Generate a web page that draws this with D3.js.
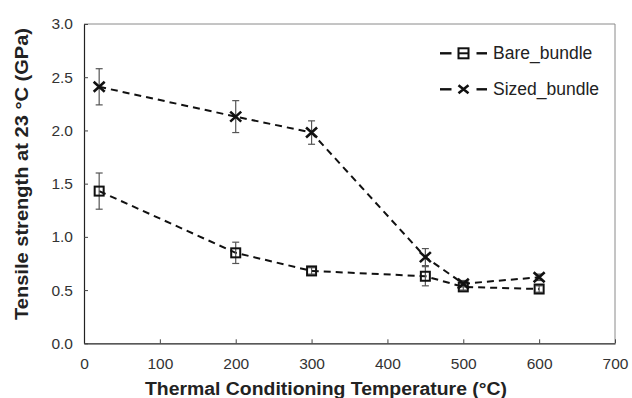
<!DOCTYPE html>
<html>
<head>
<meta charset="utf-8">
<script src="https://cdn.jsdelivr.net/npm/d3@7"></script>
<style>
  body { margin: 0; background: #fff; }
  svg { display: block; font-family: "Liberation Sans", Arial, sans-serif; }
</style>
</head>
<body>
<div id="chart"></div>
<script>
// temperatures (°C)
const temps = [20, 200, 300, 450, 500, 600];
// tensile strength (GPa) and error (±)
const bareValues = [1.43, 0.85, 0.68, 0.63, 0.53, 0.51];
const bareErrors = [0.17, 0.10, 0.03, 0.09, 0.03, 0.03];
const sizedValues = [2.41, 2.13, 1.98, 0.81, 0.56, 0.62];
const sizedErrors = [0.17, 0.15, 0.11, 0.08, 0.03, 0.03];
const xTicks = [0, 100, 200, 300, 400, 500, 600, 700];
const yTicks = [0.0, 0.5, 1.0, 1.5, 2.0, 2.5, 3.0];
const seriesNames = ["Bare_bundle", "Sized_bundle"];

const W = 632, H = 398;
const margin = { top: 24, right: 17, bottom: 54.7, left: 84 };
const width = W - margin.left - margin.right;
const height = H - margin.top - margin.bottom;

const svg = d3.select("#chart").append("svg")
    .attr("width", W)
    .attr("height", H);

const g = svg.append("g")
    .attr("transform", `translate(${margin.left},${margin.top})`);

const x = d3.scaleLinear().domain([0, 700]).range([0, width]);
const y = d3.scaleLinear().domain([0, 3]).range([height, 0]);

// frame (top and right)
g.append("path")
    .attr("d", `M0,0H${width}V${height}`)
    .attr("fill", "none")
    .attr("stroke", "#8a8a8a")
    .attr("stroke-width", 1);

// axes
g.append("g")
    .attr("transform", `translate(0,${height})`)
    .call(d3.axisBottom(x).tickValues(xTicks).tickFormat(d3.format("d")).tickSizeInner(-4).tickSizeOuter(0).tickPadding(15))
    .call(a => a.select(".domain").attr("stroke", "#222").attr("stroke-width", 1.2))
    .call(a => a.selectAll(".tick line").attr("stroke", "#444"))
    .call(a => a.selectAll(".tick text").attr("font-size", "15.5px").attr("fill", "#333")
        .attr("font-family", "Liberation Sans, Arial, sans-serif"));

g.append("g")
    .call(d3.axisLeft(y).tickValues(yTicks).tickFormat(d3.format(".1f")).tickSizeInner(-4).tickSizeOuter(0).tickPadding(11))
    .call(a => a.select(".domain").attr("stroke", "#222").attr("stroke-width", 1.2))
    .call(a => a.selectAll(".tick line").attr("stroke", "#444"))
    .call(a => a.selectAll(".tick text").attr("font-size", "15.5px").attr("fill", "#333")
        .attr("font-family", "Liberation Sans, Arial, sans-serif"));

// axis titles
svg.append("text")
    .attr("x", 326)
    .attr("y", 395)
    .attr("text-anchor", "middle")
    .attr("font-size", "18px")
    .attr("font-weight", "bold")
    .attr("fill", "#222")
    .attr("textLength", 362)
    .attr("lengthAdjust", "spacingAndGlyphs")
    .text("Thermal Conditioning Temperature (°C)");

svg.append("text")
    .attr("transform", `translate(28,174) rotate(-90)`)
    .attr("text-anchor", "middle")
    .attr("font-size", "17.5px")
    .attr("font-weight", "bold")
    .attr("fill", "#222")
    .attr("textLength", 292)
    .attr("lengthAdjust", "spacingAndGlyphs")
    .text("Tensile strength at 23 °C (GPa)");

const bare = temps.map((t, i) => ({ t, v: bareValues[i], e: bareErrors[i] }));
const sized = temps.map((t, i) => ({ t, v: sizedValues[i], e: sizedErrors[i] }));

const line = d3.line().x(d => x(d.t)).y(d => y(d.v));

function drawErrors(data) {
    const eb = g.append("g").attr("stroke", "#555").attr("stroke-width", 1.2);
    data.forEach(d => {
        eb.append("line").attr("x1", x(d.t)).attr("x2", x(d.t))
            .attr("y1", y(d.v + d.e)).attr("y2", y(d.v - d.e));
        [d.v + d.e, d.v - d.e].forEach(v => {
            eb.append("line").attr("x1", x(d.t) - 3.5).attr("x2", x(d.t) + 3.5)
                .attr("y1", y(v)).attr("y2", y(v));
        });
    });
}

function squareMarker(sel, cx, cy, s) {
    s = s || 9;
    sel.append("rect")
        .attr("x", cx - s / 2).attr("y", cy - s / 2)
        .attr("width", s).attr("height", s)
        .attr("fill", "none")
        .attr("stroke", "#111")
        .attr("stroke-width", 2);
}

function crossMarker(sel, cx, cy, w, h) {
    w = w || 5.5; h = h || 5;
    sel.append("path")
        .attr("d", `M${cx - w},${cy - h}L${cx + w},${cy + h}M${cx - w},${cy + h}L${cx + w},${cy - h}`)
        .attr("stroke", "#111")
        .attr("stroke-width", 2.6);
}

[bare, sized].forEach(data => {
    g.append("path")
        .datum(data)
        .attr("d", line)
        .attr("fill", "none")
        .attr("stroke", "#111")
        .attr("stroke-width", 2)
        .attr("stroke-dasharray", "7,5");
});

drawErrors(bare);
drawErrors(sized);

const markers = g.append("g");
bare.forEach(d => squareMarker(markers, x(d.t), y(d.v)));
sized.forEach(d => crossMarker(markers, x(d.t), y(d.v)));

// legend
const legend = svg.append("g");
seriesNames.forEach((name, i) => {
    const ly = 53.3 + i * 36;
    [[440, 451.5], [476.5, 487]].forEach(seg => {
        legend.append("line")
            .attr("x1", seg[0]).attr("x2", seg[1])
            .attr("y1", ly).attr("y2", ly)
            .attr("stroke", "#111")
            .attr("stroke-width", 2.4);
    });
    if (i === 0) {
        squareMarker(legend, 463.5, ly, 10);
        legend.append("line")
            .attr("x1", 459).attr("x2", 468)
            .attr("y1", ly).attr("y2", ly)
            .attr("stroke", "#111").attr("stroke-width", 2);
    } else {
        crossMarker(legend, 463.5, ly, 5, 4);
    }
    legend.append("text")
        .attr("x", 493)
        .attr("y", ly)
        .attr("dy", "0.35em")
        .attr("font-size", "17.5px")
        .attr("fill", "#222")
        .text(name);
});
</script>
</body>
</html>
